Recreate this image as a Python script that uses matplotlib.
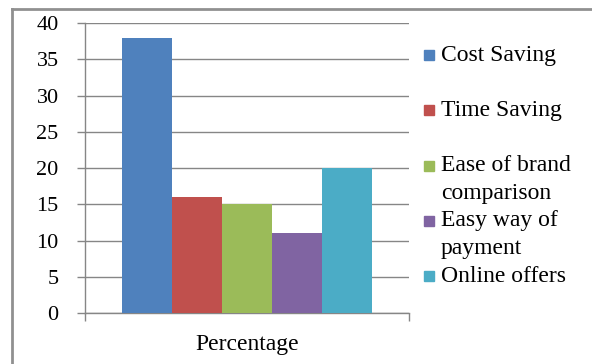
import matplotlib.pyplot as plt
from matplotlib.patches import Rectangle
from matplotlib.lines import Line2D

# Data
categories = ["Percentage"]
series_names = ["Cost Saving", "Time Saving", "Ease of brand\ncomparison",
                "Easy way of\npayment", "Online offers"]
series_values = [38, 16, 15, 11, 20]
colors = ["#4F81BD", "#C0504D", "#9BBB59", "#8064A2", "#4BACC6"]
y_ticks = [0, 5, 10, 15, 20, 25, 30, 35, 40]

W, H = 592, 364
plt.rcParams["font.family"] = ["Liberation Serif", "DejaVu Serif"]
fig = plt.figure(figsize=(W / 100, H / 100), dpi=100)
ax = fig.add_axes([85 / W, 1 - 313 / H, 324 / W, 290 / H])

grid_col = "#868686"
n = len(series_values)
bar_w = 1 / (n + 1.5)
for i, (name, val, col) in enumerate(zip(series_names, series_values, colors)):
    ax.bar(0 + (i - (n - 1) / 2) * bar_w, val, width=bar_w, color=col,
           zorder=3, label=name)

ax.set_xlim(-0.5, 0.5)
ax.set_ylim(0, 40)
ax.set_yticks(y_ticks)
ax.set_yticklabels([str(t) for t in y_ticks], fontsize=16)
ax.yaxis.grid(True, color=grid_col, lw=1, zorder=0)
ax.set_xticks([-0.5, 0.5])
ax.set_xticklabels(["", ""])
ax.set_xticks([0], minor=True)
ax.set_xticklabels(categories, minor=True, fontsize=17)
ax.tick_params(axis="x", which="minor", length=0, pad=15)
ax.tick_params(axis="both", which="major", length=6, color=grid_col, width=1)
ax.tick_params(axis="y", pad=13)
for s in ["top", "right"]:
    ax.spines[s].set_visible(False)
for s in ["left", "bottom"]:
    ax.spines[s].set_color(grid_col)
    ax.spines[s].set_linewidth(1)

# legend drawn by hand, Excel-style (marker aligned with first line)
for i, (name, col) in enumerate(zip(series_names, colors)):
    yc = 55 + 55.3 * i
    fig.patches.append(Rectangle((424 / W, 1 - (yc + 5) / H), 10 / W, 10 / H,
                                 transform=fig.transFigure, color=col))
    for j, line in enumerate(name.split("\n")):
        fig.text(441 / W, 1 - (yc + 28 * j) / H, line, fontsize=17,
                 va="center", ha="left")

# outer chart border
border = "#909090"
fig.lines.append(Line2D([12 / W, 1], [1 - 9 / H, 1 - 9 / H],
                        transform=fig.transFigure, color=border, lw=2))
fig.lines.append(Line2D([12 / W, 12 / W], [0, 1 - 9 / H],
                        transform=fig.transFigure, color=border, lw=2))

fig.savefig("out.png", dpi=100)
